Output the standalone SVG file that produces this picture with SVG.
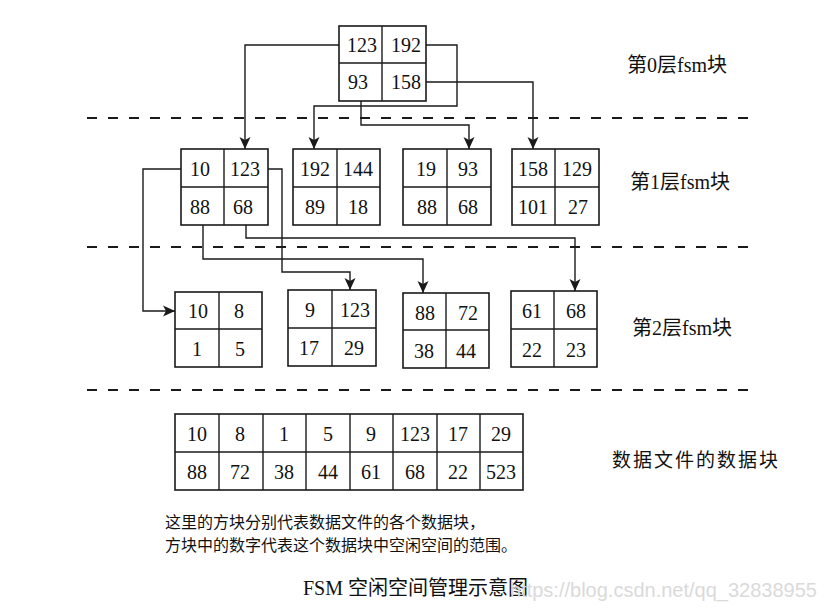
<svg xmlns="http://www.w3.org/2000/svg" width="831" height="614" viewBox="0 0 831 614">
<style>
.box{fill:#fff;stroke:#1a1a1a;stroke-width:1.6}
.div{stroke:#1a1a1a;stroke-width:1.4}
.n{font-family:"Liberation Serif","Times New Roman",serif;font-size:20px;fill:#111;text-anchor:middle}
.lbl{font-family:"Liberation Serif","Noto Sans CJK SC",serif;font-size:20px;fill:#111}
.dash{stroke:#1a1a1a;stroke-width:2.2;stroke-dasharray:10 11;fill:none}
.conn{fill:none;stroke:#1a1a1a;stroke-width:1.4}
.cap{font-family:"Liberation Serif","Noto Sans CJK SC",serif;font-size:16px;fill:#111}
</style>
<defs>
<marker id="arr" markerUnits="userSpaceOnUse" markerWidth="12" markerHeight="12" viewBox="0 0 12 12" refX="12" refY="6" orient="auto">
<path d="M0,0.5 L12,6 L0,11.5 L3,6 z" fill="#1a1a1a"/>
</marker>
</defs>
<rect width="831" height="614" fill="#fff"/>

<g id="separators">
<line class="dash" x1="87" y1="118" x2="753" y2="118"/>
<line class="dash" x1="87" y1="247" x2="753" y2="247"/>
<line class="dash" x1="87" y1="390" x2="753" y2="390"/>
</g>

<g id="connectors">
<path class="conn" d="M339,45 H245 V149" marker-end="url(#arr)"/>
<path class="conn" d="M426,45 H457 V106 H314 V149" marker-end="url(#arr)"/>
<path class="conn" d="M361,101 V125 H469 V149" marker-end="url(#arr)"/>
<path class="conn" d="M426,82 H533 V149" marker-end="url(#arr)"/>
<path class="conn" d="M181,169 H143 V311 H175" marker-end="url(#arr)"/>
<path class="conn" d="M267,169 H282 V272 H350 V290" marker-end="url(#arr)"/>
<path class="conn" d="M203,225 V259 H423 V293" marker-end="url(#arr)"/>
<path class="conn" d="M246,225 V238 H575 V291" marker-end="url(#arr)"/>
</g>

<g id="fsm0">
<rect class="box" x="339" y="26" width="87" height="75"/>
<line class="div" x1="382" y1="26" x2="382" y2="101"/>
<line class="div" x1="339" y1="63" x2="426" y2="63"/>
<text class="n" x="362" y="52">123</text><text class="n" x="406" y="52">192</text>
<text class="n" x="358" y="89">93</text><text class="n" x="406" y="89">158</text>
</g>

<g id="fsm1a">
<rect class="box" x="181" y="149" width="87" height="76"/>
<line class="div" x1="224" y1="149" x2="224" y2="225"/>
<line class="div" x1="181" y1="187" x2="268" y2="187"/>
<text class="n" x="200" y="176">10</text><text class="n" x="245" y="176">123</text>
<text class="n" x="200" y="214">88</text><text class="n" x="243" y="214">68</text>
</g>

<g id="fsm1b">
<rect class="box" x="293" y="149" width="87" height="76"/>
<line class="div" x1="337" y1="149" x2="337" y2="225"/>
<line class="div" x1="293" y1="187" x2="380" y2="187"/>
<text class="n" x="315" y="176">192</text><text class="n" x="358" y="176">144</text>
<text class="n" x="315" y="214">89</text><text class="n" x="358" y="214">18</text>
</g>

<g id="fsm1c">
<rect class="box" x="403" y="149" width="88" height="76"/>
<line class="div" x1="447" y1="149" x2="447" y2="225"/>
<line class="div" x1="403" y1="187" x2="491" y2="187"/>
<text class="n" x="426" y="176">19</text><text class="n" x="468" y="176">93</text>
<text class="n" x="427" y="214">88</text><text class="n" x="468" y="214">68</text>
</g>

<g id="fsm1d">
<rect class="box" x="512" y="149" width="87" height="76"/>
<line class="div" x1="555" y1="149" x2="555" y2="225"/>
<line class="div" x1="512" y1="187" x2="599" y2="187"/>
<text class="n" x="533" y="176">158</text><text class="n" x="577" y="176">129</text>
<text class="n" x="533" y="214">101</text><text class="n" x="578" y="214">27</text>
</g>

<g id="fsm2a">
<rect class="box" x="175" y="292" width="87" height="75"/>
<line class="div" x1="219" y1="292" x2="219" y2="367"/>
<line class="div" x1="175" y1="329" x2="262" y2="329"/>
<text class="n" x="198" y="318">10</text><text class="n" x="239" y="318">8</text>
<text class="n" x="197" y="356">1</text><text class="n" x="240" y="356">5</text>
</g>

<g id="fsm2b">
<rect class="box" x="288" y="290" width="88" height="76"/>
<line class="div" x1="332" y1="290" x2="332" y2="366"/>
<line class="div" x1="288" y1="328" x2="376" y2="328"/>
<text class="n" x="310" y="317">9</text><text class="n" x="355" y="317">123</text>
<text class="n" x="309" y="355">17</text><text class="n" x="354" y="355">29</text>
</g>

<g id="fsm2c">
<rect class="box" x="403" y="293" width="86" height="75"/>
<line class="div" x1="446" y1="293" x2="446" y2="368"/>
<line class="div" x1="403" y1="330" x2="489" y2="330"/>
<text class="n" x="425" y="320">88</text><text class="n" x="468" y="320">72</text>
<text class="n" x="424" y="358">38</text><text class="n" x="466" y="358">44</text>
</g>

<g id="fsm2d">
<rect class="box" x="511" y="291" width="86" height="76"/>
<line class="div" x1="554" y1="291" x2="554" y2="367"/>
<line class="div" x1="511" y1="329" x2="597" y2="329"/>
<text class="n" x="532" y="318">61</text><text class="n" x="576" y="318">68</text>
<text class="n" x="532" y="357">22</text><text class="n" x="576" y="357">23</text>
</g>

<g id="datablocks">
<rect class="box" x="175" y="414" width="348" height="76"/>
<line class="div" x1="175" y1="452" x2="523" y2="452"/>
<line class="div" x1="219" y1="414" x2="219" y2="490"/>
<line class="div" x1="263" y1="414" x2="263" y2="490"/>
<line class="div" x1="306" y1="414" x2="306" y2="490"/>
<line class="div" x1="350" y1="414" x2="350" y2="490"/>
<line class="div" x1="393" y1="414" x2="393" y2="490"/>
<line class="div" x1="437" y1="414" x2="437" y2="490"/>
<line class="div" x1="480" y1="414" x2="480" y2="490"/>
<text class="n" x="197" y="441">10</text><text class="n" x="240" y="441">8</text><text class="n" x="284" y="441">1</text><text class="n" x="328" y="441">5</text>
<text class="n" x="371" y="441">9</text><text class="n" x="415" y="441">123</text><text class="n" x="458" y="441">17</text><text class="n" x="501" y="441">29</text>
<text class="n" x="197" y="479">88</text><text class="n" x="240" y="479">72</text><text class="n" x="284" y="479">38</text><text class="n" x="328" y="479">44</text>
<text class="n" x="371" y="479">61</text><text class="n" x="415" y="479">68</text><text class="n" x="458" y="479">22</text><text class="n" x="501" y="479">523</text>
</g>

<g id="labels">
<text class="lbl" x="627" y="72">第0层fsm块</text>
<text class="lbl" x="630" y="189">第1层fsm块</text>
<text class="lbl" x="632" y="335">第2层fsm块</text>
<text class="lbl" x="612" y="467" style="font-size:19px;letter-spacing:2px">数据文件的数据块</text>
</g>

<g id="caption">
<text class="cap" x="165" y="528">这里的方块分别代表数据文件的各个数据块，</text>
<text class="cap" x="165" y="551">方块中的数字代表这个数据块中空闲空间的范围。</text>
<text x="303" y="595" style="font-family:'Liberation Serif','Noto Sans CJK SC',serif;font-size:20px;fill:#111">FSM 空闲空间管理示意图</text>
<text x="510" y="597" style="font-family:'Liberation Sans',Arial,sans-serif;font-size:20px;fill:#dadada">https://blog.csdn.net/qq_32838955</text>
</g>
</svg>
